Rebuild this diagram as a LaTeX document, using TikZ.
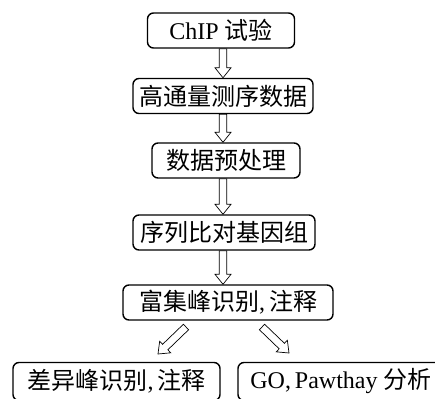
\documentclass[tikz,border=0pt]{standalone}
\usepackage{fontspec}
\setmainfont{Liberation Serif}
\newfontfamily\cjk{Noto Sans CJK SC}
\usetikzlibrary{calc}
\tikzset{
  box/.style={draw, line width=1.4pt, rounded corners=6pt, minimum height=35pt,
    inner sep=0pt, font=\fontsize{24}{28}\selectfont},
  hollow/.style={draw, line width=0.7pt, fill=white, line join=miter,
    to path={
      ($(\tikztostart)!3.8pt!90:(\tikztotarget)$)
      -- ($(\tikztotarget)!10pt!(\tikztostart)!3.8pt!90:(\tikztotarget)$)
      -- ($(\tikztotarget)!10pt!(\tikztostart)!8pt!90:(\tikztotarget)$)
      -- (\tikztotarget)
      -- ($(\tikztotarget)!10pt!(\tikztostart)!8pt!-90:(\tikztotarget)$)
      -- ($(\tikztotarget)!10pt!(\tikztostart)!3.8pt!-90:(\tikztotarget)$)
      -- ($(\tikztostart)!3.8pt!-90:(\tikztotarget)$)
      -- cycle}}
}
\begin{document}
\begin{tikzpicture}[x=1pt,y=-1pt]
\useasboundingbox (0,0) rectangle (435,398);
\node[box, minimum width=147pt] (n1) at (221,30.5) {ChIP {\cjk 试验}};
\node[box, minimum width=180pt] (n2) at (223,96) {\cjk 高通量测序数据};
\node[box, minimum width=148pt] (n3) at (226,160.5) {\cjk 数据预处理};
\node[box, minimum width=182pt] (n4) at (224,232.5) {\cjk 序列比对基因组};
\node[box, minimum width=210pt] (n5) at (228,302.5) {{\cjk 富集峰识别},\,{\cjk 注释}};
\node[box, minimum width=207pt, minimum height=38pt] (n6) at (116.5,381.5) {{\cjk 差异峰识别},\,{\cjk 注释}};
\node[box, minimum width=206pt, minimum height=38pt] (n7) at (341,381.5) {GO,\,Pawthay {\cjk 分析}};
\coordinate (ax) at (223,0);
\draw[hollow] (n1.south -| ax) to (n2.north -| ax);
\draw[hollow] (n2.south -| ax) to (n3.north -| ax);
\draw[hollow] (n3.south -| ax) to (n4.north -| ax);
\draw[hollow] (n4.south -| ax) to (n5.north -| ax);
\coordinate (l1) at (186,327);
\coordinate (l2) at (158,354);
\coordinate (r1) at (262,327);
\coordinate (r2) at (289,353);
\draw[hollow] (l1) to (l2);
\draw[hollow] (r1) to (r2);
\end{tikzpicture}
\end{document}
